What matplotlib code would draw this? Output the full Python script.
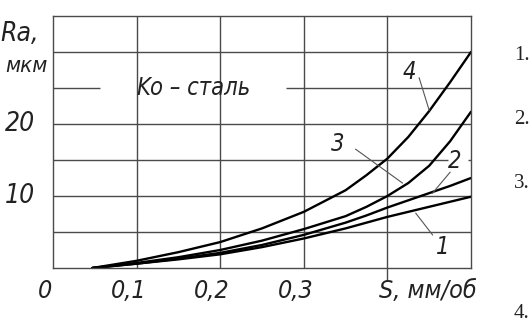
import numpy as np
import matplotlib.pyplot as plt
from matplotlib import transforms

# Feed S, mm/rev and roughness Ra, um for the four curves
feed = [0.047, 0.1, 0.15, 0.2, 0.25, 0.3, 0.35, 0.375, 0.4, 0.425, 0.45, 0.475, 0.5]
ra_1 = [0, 0.6, 1.2, 1.9, 2.9, 4.1, 5.5, 6.3, 7.1, 7.8, 8.5, 9.2, 9.9]
ra_2 = [0, 0.6, 1.3, 2.1, 3.2, 4.6, 6.3, 7.3, 8.4, 9.4, 10.4, 11.4, 12.5]
ra_3 = [0, 0.7, 1.5, 2.5, 3.8, 5.4, 7.2, 8.5, 10.0, 11.8, 14.2, 17.6, 21.7]
ra_4 = [0, 1.0, 2.2, 3.6, 5.5, 7.8, 10.8, 12.9, 15.2, 18.2, 21.8, 25.8, 30.0]

x_ticks = [0, 0.1, 0.2, 0.3]
x_labels = ['0', '0,1', '0,2', '0,3']
y_ticks = [10, 20]
y_labels = ['10', '20']
side_labels = ['1.', '2.', '3.', '4.']

W, H = 529, 322
grid_c = '#4a4a4a'
hand = dict(family='DejaVu Sans', stretch='condensed', style='oblique',
            weight='light', color='#222222')

fig = plt.figure(figsize=(W / 100, H / 100), dpi=100)
ax = fig.add_axes([53 / W, (H - 268) / H, (471 - 53) / W, (268 - 16) / H])
ax.set_xlim(0, 0.5)
ax.set_ylim(0, 35)
ax.set_xticks([])
ax.set_yticks([])
for sp in ax.spines.values():
    sp.set_color(grid_c)
    sp.set_linewidth(1.0)

# Grid (line at 25 is broken for the title text)
for gx in [0.1, 0.2, 0.3]:
    ax.axvline(gx, color=grid_c, lw=1.0)
ax.plot([0.4, 0.4], [-1.7, 35], color=grid_c, lw=1.0, clip_on=False)
for gy in [5, 10, 20, 30]:
    ax.axhline(gy, color=grid_c, lw=1.0)
ax.hlines(15, 0, 0.472, color=grid_c, lw=1.0)
ax.hlines(15, 0.496, 0.5, color=grid_c, lw=1.0)
ax.hlines(25, 0, 0.056, color=grid_c, lw=1.0)
ax.hlines(25, 0.279, 0.5, color=grid_c, lw=1.0)

# Curves
for ys in [ra_1, ra_2, ra_3, ra_4]:
    ax.plot(feed, ys, color='black', lw=1.7, solid_capstyle='round',
            solid_joinstyle='round')

# Curve numbers with leader lines
ax.text(0.426, 27.2, '4', fontsize=17, ha='center', va='center', **hand)
ax.plot([0.438, 0.450], [26.4, 21.9], color='#555555', lw=0.8)
ax.text(0.340, 17.2, '3', fontsize=17, ha='center', va='center', **hand)
ax.plot([0.362, 0.418], [16.5, 11.8], color='#555555', lw=0.8)
ax.text(0.480, 14.8, '2', fontsize=17, ha='center', va='center', **hand)
ax.plot([0.475, 0.454], [13.3, 10.4], color='#555555', lw=0.8)
ax.text(0.466, 2.9, '1', fontsize=17, ha='center', va='center', **hand)
ax.plot([0.454, 0.434], [4.6, 7.6], color='#555555', lw=0.8)

ax.text(0.168, 25, 'Ko \u2013 сталь', fontsize=17, ha='center', va='center', **hand)

# Axis labels drawn as text
bx = transforms.blended_transform_factory(ax.transData, fig.transFigure)
for v, s in zip(x_ticks, x_labels):
    ax.text(v - 0.01, (H - 291) / H, s, transform=bx, fontsize=18,
            ha='center', va='center', **hand)
ax.text(428 / W, (H - 291) / H, 'S, мм/об', transform=fig.transFigure, fontsize=18,
        ha='center', va='center', **hand)

by = transforms.blended_transform_factory(fig.transFigure, ax.transData)
for v, s in zip(y_ticks, y_labels):
    ax.text(20 / W, v, s, transform=by, fontsize=19, ha='center', va='center', **hand)
fig.text(20 / W, (H - 34) / H, 'Ra,', fontsize=19, ha='center', va='center', **hand)
fig.text(26 / W, (H - 66) / H, 'мкм', fontsize=16, ha='center', va='center', **hand)

# Cropped list numbers on the right
for s, py in zip(side_labels, [56, 119, 183, 313]):
    fig.text(514 / W, (H - py) / H, s, fontsize=15, family='Liberation Serif',
             ha='left', va='center', color='#222222')

fig.savefig('out.png', dpi=100, facecolor='white')
